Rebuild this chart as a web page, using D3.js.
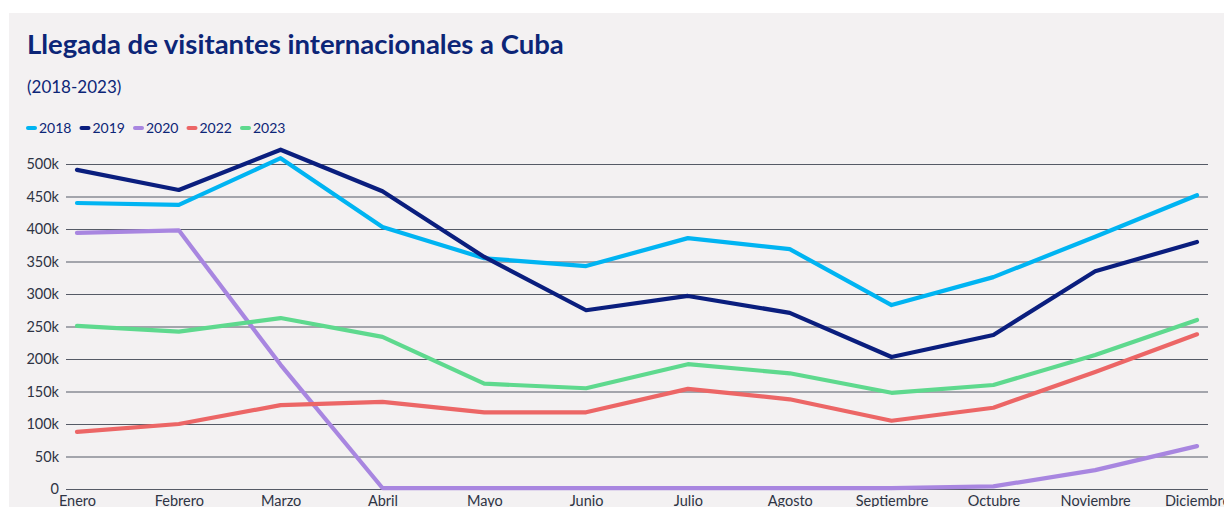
<!DOCTYPE html>
<html>
<head>
<meta charset="utf-8">
<script src="https://cdn.jsdelivr.net/npm/d3@7"></script>
<style>
  body { margin: 0; background: #fff; }
  svg { display: block; }
  text { font-family: "Lato", "Noto Sans", sans-serif; }
</style>
</head>
<body>
<div id="chart"></div>
<script>
const months = ["Enero", "Febrero", "Marzo", "Abril", "Mayo", "Junio", "Julio", "Agosto", "Septiembre", "Octubre", "Noviembre", "Diciembre"];
const years = ["2018", "2019", "2020", "2022", "2023"];
const colors = ["#00b4f2", "#0a1e7e", "#a886e0", "#ec6666", "#5ed98e"];
const yTicks = [0, 50000, 100000, 150000, 200000, 250000, 300000, 350000, 400000, 450000, 500000];

const v2018 = [440000, 437000, 509000, 403000, 355000, 343000, 386000, 369000, 283000, 326000, 388000, 452000];
const v2019 = [491000, 460000, 522000, 458000, 357000, 275000, 297000, 271000, 203000, 237000, 335000, 380000];
const v2020 = [394000, 398000, 191000, 1500, 1500, 1500, 1500, 1500, 1500, 4000, 29000, 66000];
const v2022 = [88000, 100000, 129000, 134000, 118000, 118000, 154000, 138000, 105000, 125000, 180000, 238000];
const v2023 = [251000, 242000, 263000, 234000, 162000, 155000, 192000, 178000, 148000, 160000, 206000, 260000];
const seriesValues = [v2018, v2019, v2020, v2022, v2023];

const width = 1224;
const height = 507;
const navy = "#0c2577";

const svg = d3.select("#chart")
    .append("svg")
    .attr("width", width)
    .attr("height", height);

// card background
svg.append("rect")
    .attr("x", 9)
    .attr("y", 13)
    .attr("width", width - 9)
    .attr("height", height - 13)
    .attr("fill", "#f3f1f2");

svg.append("text")
    .attr("x", 27)
    .attr("y", 54)
    .attr("fill", navy)
    .attr("font-size", 27.5)
    .attr("font-weight", 700)
    .text("Llegada de visitantes internacionales a Cuba");

svg.append("text")
    .attr("x", 27)
    .attr("y", 93)
    .attr("fill", navy)
    .attr("font-size", 17)
    .text("(2018-2023)");

// legend
const legend = svg.append("g").attr("transform", "translate(27, 128)");
years.forEach((yr, i) => {
    const g = legend.append("g").attr("transform", `translate(${i * 53.5}, 0)`);
    g.append("line")
        .attr("x1", 1).attr("x2", 8)
        .attr("y1", 0).attr("y2", 0)
        .attr("stroke", colors[i])
        .attr("stroke-width", 4)
        .attr("stroke-linecap", "round");
    g.append("text")
        .attr("x", 12)
        .attr("y", 5)
        .attr("fill", navy)
        .attr("font-size", 14)
        .text(yr);
});

const x = d3.scalePoint()
    .domain(months)
    .range([77, 1197]);

const y = d3.scaleLinear()
    .domain([0, 500000])
    .range([489, 164]);

// gridlines + y labels
const yAxis = d3.axisLeft(y)
    .tickValues(yTicks)
    .tickSize(-(1208 - 66))
    .tickPadding(7)
    .tickFormat(d => d === 0 ? "0" : `${d / 1000}k`);

svg.append("g")
    .attr("transform", "translate(66, 0)")
    .call(yAxis)
    .call(g => g.select(".domain").remove())
    .call(g => g.selectAll(".tick line").attr("stroke", "#555a66").attr("stroke-width", 1.2))
    .call(g => g.selectAll(".tick text").attr("fill", "#2e3444").attr("font-size", 14.5));

const xAxis = d3.axisBottom(x).tickSize(0).tickPadding(7);
svg.append("g")
    .attr("transform", "translate(0, 489)")
    .call(xAxis)
    .call(g => g.select(".domain").remove())
    .call(g => g.selectAll(".tick text").attr("fill", "#2e3444").attr("font-size", 14.5));

const line = d3.line()
    .x((d, i) => x(months[i]))
    .y(d => y(d));

svg.append("g")
    .selectAll("path")
    .data(seriesValues)
    .enter()
    .append("path")
    .attr("d", line)
    .attr("fill", "none")
    .attr("stroke", (d, i) => colors[i])
    .attr("stroke-width", 4.2)
    .attr("stroke-linejoin", "round")
    .attr("stroke-linecap", "round");
</script>
</body>
</html>
